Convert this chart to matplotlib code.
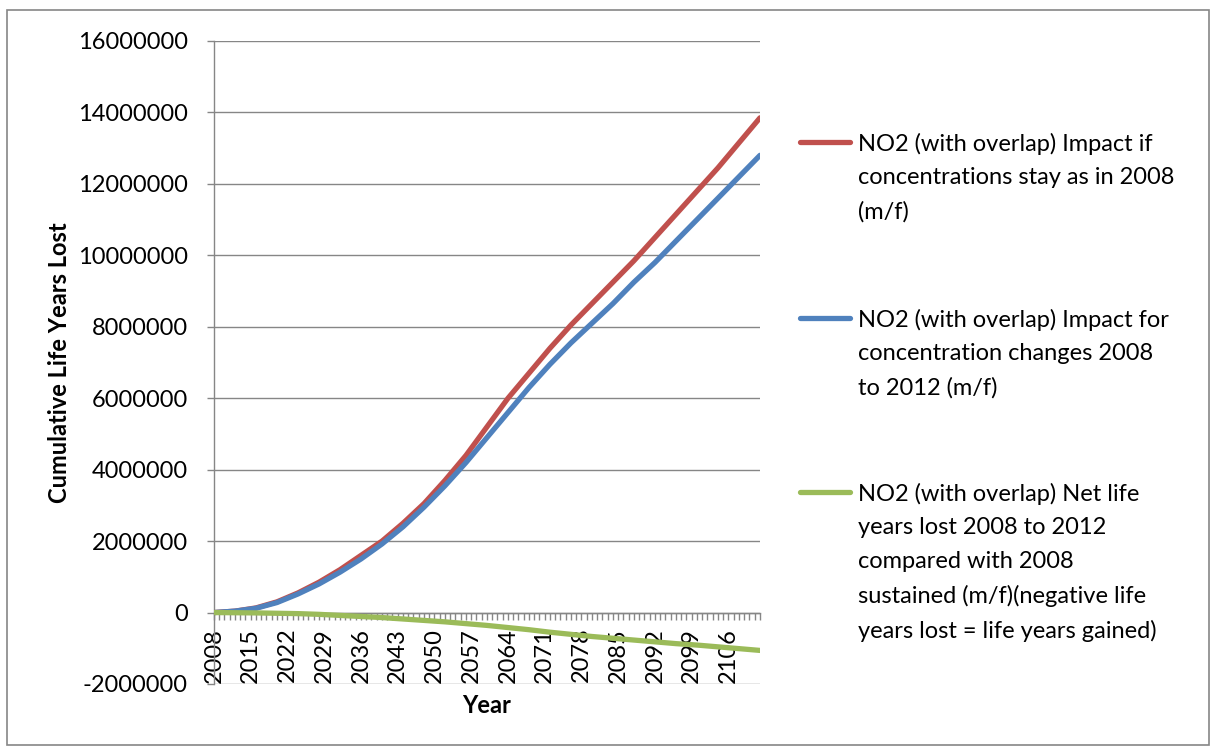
import numpy as np
import matplotlib
matplotlib.use("Agg")
import matplotlib.pyplot as plt
from matplotlib.lines import Line2D
from matplotlib.patches import Rectangle
from matplotlib.ticker import MultipleLocator

plt.rcParams['font.family'] = ['Lato', 'DejaVu Sans']

years = [2008, 2012, 2016, 2020, 2024, 2028, 2032, 2036, 2040, 2044, 2048, 2052, 2056, 2060,
         2064, 2068, 2072, 2076, 2080, 2084, 2088, 2092, 2096, 2100, 2104, 2108, 2112]
stay_2008 = [0, 0.04, 0.13, 0.30, 0.55, 0.85, 1.20, 1.60, 2.00, 2.50, 3.05, 3.70, 4.40, 5.20,
             6.00, 6.70, 7.40, 8.05, 8.65, 9.25, 9.85, 10.50, 11.15, 11.80, 12.45, 13.15, 13.85]
changes_2012 = [0, 0.04, 0.12, 0.28, 0.52, 0.80, 1.13, 1.50, 1.92, 2.40, 2.95, 3.55, 4.20, 4.90,
                5.60, 6.30, 6.95, 7.55, 8.10, 8.65, 9.25, 9.80, 10.40, 11.00, 11.60, 12.20, 12.80]
net_lost = [0, -0.005, -0.01, -0.02, -0.03, -0.05, -0.08, -0.11, -0.14, -0.18, -0.22, -0.26, -0.31, -0.36,
            -0.42, -0.48, -0.55, -0.61, -0.67, -0.72, -0.77, -0.82, -0.87, -0.91, -0.96, -1.01, -1.06]
tick_years = list(range(2008, 2113, 7))

labels = ["NO2 (with overlap) Impact if\nconcentrations stay as in 2008\n(m/f)",
          "NO2 (with overlap) Impact for\nconcentration changes 2008\nto 2012 (m/f)",
          "NO2 (with overlap) Net life\nyears lost 2008 to 2012\ncompared with 2008\nsustained (m/f)(negative life\nyears lost = life years gained)"]
colors = ['#C0504D', '#4F81BD', '#9BBB59']

W, H = 1216, 747
fig = plt.figure(figsize=(W / 100, H / 100), dpi=100)
ax = fig.add_axes([214 / W, 1 - 684 / H, (760 - 214) / W, (684 - 41) / H])

gray = '#868686'
# x axis crosses at zero (set first, it resets the ticks)
ax.spines['bottom'].set_position(('data', 0))
for s in ['top', 'right']:
    ax.spines[s].set_visible(False)
for s in ['left', 'bottom']:
    ax.spines[s].set_color(gray)
    ax.spines[s].set_linewidth(1.0)

series = [stay_2008, changes_2012, net_lost]
lines = []
for vals, c in zip(series, colors):
    ln, = ax.plot(years, np.array(vals) * 1e6, color=c, lw=3.8, solid_capstyle='round', zorder=3)
    lines.append(ln)

ax.set_xlim(2008, 2112)
ax.set_ylim(-2e6, 16e6)
yt = np.arange(-2e6, 16.1e6, 2e6)
ax.set_yticks(yt)
ax.set_yticklabels([f"{int(v)}" for v in yt])
ax.yaxis.grid(True, color=gray, lw=1.0)
ax.set_axisbelow(True)

ax.set_xticks(tick_years)
ax.set_xticklabels([str(y) for y in tick_years])
ax.xaxis.set_minor_locator(MultipleLocator(1))

ax.tick_params(axis='y', length=5, color=gray, width=1.0, pad=14, labelsize=17)
ax.tick_params(axis='x', which='both', length=5, color=gray, width=1.0, direction='out')
ax.tick_params(axis='x', which='major', pad=6, labelsize=17, labelrotation=90)

ax.set_ylabel("Cumulative Life Years Lost", fontsize=17, fontweight='bold')
ax.yaxis.set_label_coords(-0.262, 0.5)
ax.set_xlabel("Year", fontsize=17, fontweight='bold')
ax.xaxis.set_label_coords(0.5, -0.016)

# legend, handles aligned with the first text line of each entry
leg_y = [142, 318, 492]
for ln, lab, y in zip(lines, labels, leg_y):
    fig.add_artist(Line2D([800 / W, 850 / W], [1 - y / H, 1 - y / H], color=ln.get_color(),
                          lw=3.8, solid_capstyle='round'))
    fig.text(858 / W, 1 - (y - 9) / H, lab, fontsize=17, va='top', ha='left', linespacing=1.72)

fig.add_artist(Rectangle((7 / W, 1 - 745 / H), (1209 - 7) / W, (745 - 10) / H, fill=False,
                         edgecolor=gray, lw=1.2))

fig.savefig("out.png", dpi=100)
